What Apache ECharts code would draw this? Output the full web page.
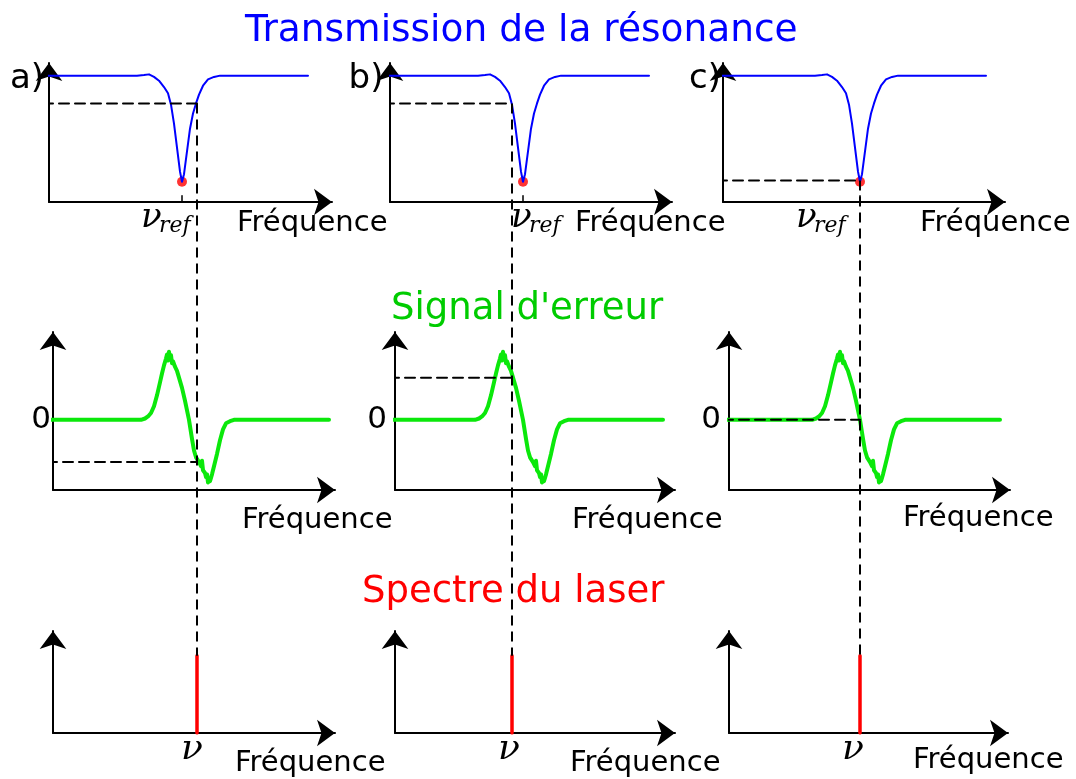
<!DOCTYPE html>
<html>
<head>
<meta charset="utf-8">
<title>Transmission, signal d'erreur et spectre du laser</title>
<script src="https://cdn.jsdelivr.net/npm/echarts@6/dist/echarts.min.js"></script>
<style>
  html, body { margin: 0; padding: 0; background: #fff; }
  #chart { width: 1076px; height: 779px; }
</style>
</head>
<body>
<div id="chart"></div>
<script>
// transmission de la cavité, écart à nu_ref (unités arbitraires)
var transX = [-140, -45, -38, -33, -28, -23, -18, -14, -11, -8, -5, -2, 0, 2, 5, 8, 11, 14, 17, 21, 26, 32, 38, 126];
var transY = [1, 1, 1.005, 1.01, 0.99, 0.96, 0.91, 0.86, 0.77, 0.62, 0.43, 0.24, 0.16, 0.22, 0.4, 0.58, 0.7, 0.78, 0.85, 0.92, 0.97, 0.99, 1, 1];

// signal d'erreur, écart à son passage par zéro
var errX = [-150, -48, -44, -41, -38, -35, -32, -29, -27, -25, -23, -22, -21, -20, -19, -18, -17, -16, -14, -12, -10, -7, -4, 0, 3, 5, 7, 10, 12, 13, 14, 16, 17, 18, 19, 20, 21, 23, 25, 28, 31, 34, 37, 41, 45, 140];
var errY = [0, 0, 0.02, 0.05, 0.1, 0.2, 0.36, 0.55, 0.68, 0.8, 0.9, 0.96, 0.87, 1.0, 0.9, 0.95, 0.83, 0.86, 0.78, 0.72, 0.62, 0.47, 0.28, 0, -0.28, -0.45, -0.55, -0.62, -0.68, -0.6, -0.74, -0.78, -0.84, -0.8, -0.92, -0.86, -0.9, -0.8, -0.68, -0.5, -0.3, -0.14, -0.05, -0.02, 0, 0];

// cas a), b), c) : position de nu_ref et du zéro d'erreur par rapport au laser (nu = 0)
var refPos = [-15, 11, 0];
var errZero = [-8, 11, 0];
// niveaux lus à la fréquence du laser
var transLock = [0.78, 0.78, 0.17];
var errLock = [-0.62, 0.62, 0];
var laserAmp = [1, 1, 1];

var panelNames = ['a)', 'b)', 'c)'];
var rowTitles = ['Transmission de la résonance', "Signal d'erreur", 'Spectre du laser'];
var axisName = 'Fréquence';

// mise en page (px) : extrémités des flèches
var nuX = [197, 512, 860];
var rows = [
  { yTip: 63,  base: 202, axisX: [49, 390, 723], xTip: [332, 672, 1005], yMin: 0,     yMax: 1.10 },
  { yTip: 332, base: 490, axisX: [53, 395, 729], xTip: [335, 675, 1010], yMin: -1.03, yMax: 1.29 },
  { yTip: 631, base: 733, axisX: [53, 395, 729], xTip: [335, 675, 1008], yMin: 0,     yMax: 1.32 }
];

var BLUE = '#0000ff', GREEN = '#0be80b', RED = '#ff0000';
var SANS = '"DejaVu Sans"', SERIF = '"DejaVu Serif"';

var chart = echarts.init(document.getElementById('chart'));

var axisLine = {
  onZero: false,
  symbol: ['none', 'arrow'],
  symbolSize: [20, 18],
  lineStyle: { color: '#000', width: 2 }
};

var grid = [], xAxis = [], yAxis = [], series = [];

rows.forEach(function (r, ri) {
  for (var c = 0; c < 3; c++) {
    var left = r.axisX[c], right = r.xTip[c];
    grid.push({ left: left, top: r.yTip, width: right - left, height: r.base - r.yTip });
    xAxis.push({
      type: 'value', gridIndex: ri * 3 + c,
      min: left - nuX[c], max: right - nuX[c],
      axisLine: axisLine, axisTick: { show: false }, axisLabel: { show: false }, splitLine: { show: false }
    });
    yAxis.push({
      type: 'value', gridIndex: ri * 3 + c,
      min: r.yMin, max: r.yMax,
      axisLine: axisLine, axisTick: { show: false }, axisLabel: { show: false }, splitLine: { show: false }
    });
  }
});

function lineSeries(idx, data, color, width, dash, clip) {
  return {
    type: 'line', xAxisIndex: idx, yAxisIndex: idx,
    data: data, showSymbol: false, symbol: 'none', silent: true,
    clip: clip !== false,
    lineStyle: { color: color, width: width, type: dash || 'solid', cap: 'round', join: 'round' }
  };
}

var minT = Math.min.apply(null, transY);

for (var c = 0; c < 3; c++) {
  // ligne 1 : transmission
  series.push(lineSeries(c, transX.map(function (x, i) { return [x + refPos[c], transY[i]]; }), BLUE, 2));
  series.push(lineSeries(c, [[refPos[c], 0], [refPos[c], 0.05]], '#000', 1.5));
  series.push(lineSeries(c, [[xAxis[c].min - 6, transLock[c]], [0, transLock[c]]], '#000', 2, [10, 6], false));
  series.push({
    type: 'scatter', xAxisIndex: c, yAxisIndex: c, silent: true, clip: false,
    symbolSize: 10, itemStyle: { color: RED },
    data: [[refPos[c], minT]]
  });

  // ligne 2 : signal d'erreur
  var m = 3 + c;
  series.push(lineSeries(m, errX.map(function (x, i) { return [x + errZero[c], errY[i]]; }), GREEN, 4));
  series.push(lineSeries(m, [[xAxis[m].min - 6, errLock[c]], [0, errLock[c]]], '#000', 2, [10, 6], false));

  // ligne 3 : raie laser
  var b = 6 + c;
  series.push(lineSeries(b, [[0, 0], [0, laserAmp[c]]], RED, 3.5));
}

function txt(str, x, y, font, color, align) {
  return {
    type: 'text', x: x, y: y, silent: true, z: 10,
    style: {
      text: str, font: font, fill: color,
      align: align || 'left', textAlign: align || 'left',
      verticalAlign: 'middle', textVerticalAlign: 'middle'
    }
  };
}

var graphic = [];
graphic.push(txt(rowTitles[0], 245, 31, '37.5px ' + SANS, BLUE));
graphic.push(txt(rowTitles[1], 391, 309, '37px ' + SANS, '#00cc00'));
graphic.push(txt(rowTitles[2], 362, 592, '37px ' + SANS, RED));

var letterX = [27, 366, 705];
var nuRefX = [141, 511, 796];
var freqX = [[237, 575, 920], [242, 572, 903], [235, 570, 913]];
var freqY = [[223, 223, 223], [520, 520, 518], [763, 763, 760]];
var zeroX = [41, 377, 711];
var nuX2 = [192, 509, 853];

for (var k = 0; k < 3; k++) {
  graphic.push(txt(panelNames[k], letterX[k], 79, '34px ' + SANS, '#000', 'center'));
  graphic.push(txt('ν', nuRefX[k], 218, 'italic 34px ' + SERIF, '#000'));
  graphic.push(txt('ref', nuRefX[k] + 18, 226, 'italic 22px ' + SERIF, '#000'));
  graphic.push(txt('0', zeroX[k], 420, '31px ' + SANS, '#000', 'center'));
  graphic.push(txt('ν', nuX2[k], 750, 'italic 36px ' + SERIF, '#000', 'center'));
  for (var r = 0; r < 3; r++) {
    graphic.push(txt(axisName, freqX[r][k], freqY[r][k], '29px ' + SANS, '#000'));
  }
}

var option = {
  animation: false,
  backgroundColor: '#fff',
  grid: grid,
  xAxis: xAxis,
  yAxis: yAxis,
  series: series,
  graphic: graphic
};

chart.setOption(option);

// pointillés verticaux : de la transmission au spectre, à la fréquence du laser
for (var j = 0; j < 3; j++) {
  var p1 = chart.convertToPixel({ xAxisIndex: j, yAxisIndex: j }, [0, transLock[j]]);
  var p2 = chart.convertToPixel({ xAxisIndex: 6 + j, yAxisIndex: 6 + j }, [0, laserAmp[j]]);
  graphic.push({
    type: 'line', silent: true, z: 5,
    shape: { x1: p1[0], y1: p1[1], x2: p2[0], y2: p2[1] },
    style: { stroke: '#000', lineWidth: 2, lineDash: [10, 6] }
  });
}
chart.setOption({ graphic: graphic });
</script>
</body>
</html>
